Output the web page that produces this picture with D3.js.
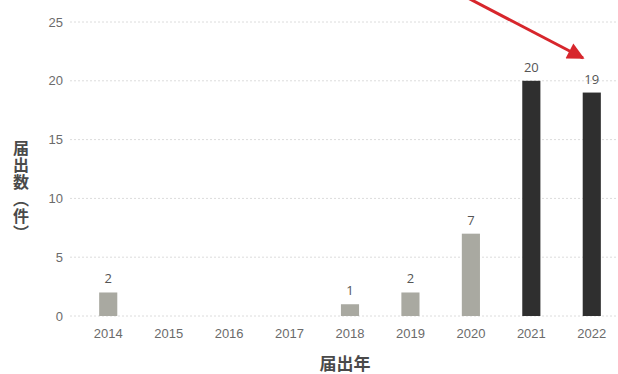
<!DOCTYPE html>
<html>
<head>
<meta charset="utf-8">
<script src="https://cdn.jsdelivr.net/npm/d3@7"></script>
<style>
  body { margin: 0; background: #fff; }
  svg { display: block; font-family: "Open Sans", "Noto Sans", sans-serif; }
</style>
</head>
<body>
<svg id="chart" width="618" height="374"></svg>
<script>
const years = ["2014", "2015", "2016", "2017", "2018", "2019", "2020", "2021", "2022"];
const counts = [2, 0, 0, 0, 1, 2, 7, 20, 19];
const yTicks = [0, 5, 10, 15, 20, 25];
const highlightYears = ["2021", "2022"];
const yTitle = "届出数（件）";
const xTitle = "届出年";

const svg = d3.select("#chart");

const x = d3.scaleBand()
    .domain(years)
    .range([78, 622])
    .paddingInner(0.7)
    .paddingOuter(0.35);

const y = d3.scaleLinear()
    .domain([0, 25])
    .range([316, 22]);

// dotted grid lines
svg.append("g")
    .selectAll("line")
    .data(yTicks)
    .join("line")
    .attr("x1", 70)
    .attr("x2", 618)
    .attr("y1", d => y(d))
    .attr("y2", d => y(d))
    .attr("stroke", "#dcdcdc")
    .attr("stroke-width", 1)
    .attr("stroke-dasharray", "2,2");

// y axis labels
const yAxis = svg.append("g")
    .attr("transform", "translate(70,0)")
    .call(d3.axisLeft(y).tickValues(yTicks).tickSize(0).tickPadding(7));
yAxis.select(".domain").remove();
yAxis.selectAll("text")
    .attr("fill", "#6b6b6b")
    .attr("font-size", "13px");

// x axis labels
const xAxis = svg.append("g")
    .attr("transform", "translate(0,316)")
    .call(d3.axisBottom(x).tickSize(0).tickPadding(13));
xAxis.select(".domain").remove();
xAxis.selectAll("text")
    .attr("fill", "#6b6b6b")
    .attr("font-size", "13px");

// bars
const rows = years.map((yr, i) => ({ year: yr, value: counts[i] }));
svg.append("g")
    .selectAll("rect")
    .data(rows)
    .join("rect")
    .attr("x", d => x(d.year))
    .attr("y", d => y(d.value))
    .attr("width", x.bandwidth())
    .attr("height", d => y(0) - y(d.value))
    .attr("fill", d => highlightYears.includes(d.year) ? "#2f2f2f" : "#a9a9a1");

// value labels
svg.append("g")
    .selectAll("text")
    .data(rows.filter(d => d.value > 0))
    .join("text")
    .attr("x", d => x(d.year) + x.bandwidth() / 2)
    .attr("y", d => y(d.value) - 9)
    .attr("text-anchor", "middle")
    .attr("fill", "#555")
    .attr("font-size", "13px")
    .text(d => d.value);

// y axis title, written vertically
svg.append("text")
    .attr("x", 21)
    .attr("y", 140)
    .style("writing-mode", "vertical-rl")
    .attr("font-family", "Noto Sans CJK JP")
    .attr("font-weight", "bold")
    .attr("font-size", "16px")
    .attr("letter-spacing", "1px")
    .attr("fill", "#4a4a4a")
    .text(yTitle);

// x axis title
svg.append("text")
    .attr("x", 345)
    .attr("y", 370)
    .attr("text-anchor", "middle")
    .attr("font-family", "Noto Sans CJK JP")
    .attr("font-weight", "bold")
    .attr("font-size", "17px")
    .attr("fill", "#4a4a4a")
    .text(xTitle);

// red arrow
svg.append("defs").append("marker")
    .attr("id", "head")
    .attr("viewBox", "0 0 10 10")
    .attr("refX", 9)
    .attr("refY", 5)
    .attr("markerWidth", 20)
    .attr("markerHeight", 17)
    .attr("markerUnits", "userSpaceOnUse")
    .attr("orient", "auto")
    .append("path")
    .attr("d", "M0,0 L10,5 L0,10 Z")
    .attr("fill", "#d7262c");

svg.append("line")
    .attr("x1", 466)
    .attr("y1", -3)
    .attr("x2", 583)
    .attr("y2", 58)
    .attr("stroke", "#d7262c")
    .attr("stroke-width", 3)
    .attr("marker-end", "url(#head)");
</script>
</body>
</html>
